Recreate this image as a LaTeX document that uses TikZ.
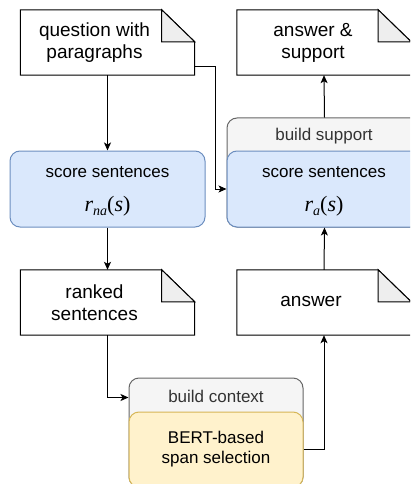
\documentclass[tikz,border=0pt]{standalone}
\usepackage{fontspec}
\setmainfont{Liberation Sans}
\newfontfamily\mathserif{Liberation Serif}
\usetikzlibrary{arrows.meta}
\definecolor{blueF}{HTML}{DAE8FC}
\definecolor{blueS}{HTML}{6C8EBF}
\definecolor{grayF}{HTML}{F5F5F5}
\definecolor{grayS}{HTML}{666666}
\definecolor{grayT}{HTML}{333333}
\definecolor{yelF}{HTML}{FFF2CC}
\definecolor{yelS}{HTML}{D6B656}
\definecolor{foldF}{HTML}{EEEEEE}
\newcommand{\docoutline}[1]{%
  \draw[docline] (#1.north west) -- ([xshift=-33pt]#1.north east) -- ([yshift=-32pt]#1.north east) -- (#1.south east) -- (#1.south west) -- cycle;
  \draw[foldline] ([xshift=-33pt]#1.north east) -- ([xshift=-33pt,yshift=-32pt]#1.north east) -- ([yshift=-32pt]#1.north east) -- cycle;}
\newcommand{\rmath}[1]{{\mathserif\itshape r}\raisebox{-4pt}{\mathserif\itshape\fontsize{14}{14}\selectfont #1}{\mathserif(}{\mathserif\itshape s}{\mathserif)}}
\begin{document}
\begin{tikzpicture}[x=1pt,y=-1pt,
  docnode/.style={shape=rectangle, draw=none, minimum width=174pt, minimum height=65pt, inner sep=0pt},
  doctext/.style={align=center, inner sep=0pt, font=\fontsize{19}{22}\selectfont},
  docline/.style={draw=black, fill=white, line width=1pt, line join=miter},
  foldline/.style={draw=black, fill=foldF, line width=1pt},
  bluebox/.style={shape=rectangle, draw=blueS, fill=blueF, rounded corners=10pt, line width=1pt, minimum width=195pt, minimum height=76pt, inner sep=0pt},
  contbox/.style={shape=rectangle, draw=grayS, fill=grayF, rounded corners=10pt, line width=1pt, inner sep=0pt},
  yelbox/.style={shape=rectangle, draw=yelS, fill=yelF, rounded corners=10pt, line width=1pt, inner sep=0pt},
  lbl/.style={align=center, inner sep=0pt, font=\fontsize{17}{20}\selectfont},
  hdr/.style={align=center, inner sep=0pt, text=grayT, font=\fontsize{17}{20}\selectfont},
  mth/.style={inner sep=0pt, font=\fontsize{22}{24}\selectfont},
  conn/.style={draw=black, line width=1pt, -{Stealth[length=8pt,width=7pt,inset=2pt]}}
]
\useasboundingbox (0,0) rectangle (410,484);
\clip (0,0) rectangle (410,484);

% documents
\node[docnode] (q) at (107.5,42.5) {};
\docoutline{q}
\node[doctext] (qt) at ([xshift=-13pt]q.center) {question with\\paragraphs};

\node[docnode] (as) at (324,42.5) {};
\docoutline{as}
\node[doctext] (ast) at ([xshift=-11pt]as.center) {answer \&\\support};

\node[docnode] (rs) at (107.5,302.5) {};
\docoutline{rs}
\node[doctext] (rst) at ([xshift=-13pt]rs.center) {ranked\\sentences};

\node[docnode] (an) at (324,302.5) {};
\docoutline{an}
\node[doctext] (ant) at ([xshift=-13pt,yshift=1pt]an.center) {answer};

% left scoring box
\node[bluebox] (sn) at (107.5,189) {};
\node[lbl] (snt) at (107.5,172) {score sentences};
\node[mth] (snm) at (107.5,206) {\rmath{na}};

% build support container
\node[contbox, minimum width=195pt, minimum height=109pt] (bs) at (324.5,172.5) {};
\node[hdr] (bst) at (324,136) {build support};
\node[bluebox] (sr) at (324.5,189) {};
\node[lbl] (srt) at (324,172) {score sentences};
\node[mth] (srm) at (324,206) {\rmath{a}};

% build context container
\node[contbox, minimum width=174pt, minimum height=109pt] (bc) at (216,432.5) {};
\node[hdr] (bct) at (216,396) {build context};
\node[yelbox, minimum width=174pt, minimum height=75pt] (ys) at (216,449.5) {};
\node[lbl] (yst) at (216,449) {BERT-based\\span selection};

% connectors
\draw[conn] (q.south) -- (sn.north);
\draw[conn] ([yshift=-24.5pt]q.east) -| ([xshift=-11pt]sr.west) -- (sr.west);
\draw[conn] (sn.south) -- (rs.north);
\draw[conn] (rs.south) |- ([yshift=-20pt]bc.north west);
\draw[conn] (ys.east) -| (an.south);
\draw[conn] (an.north) -- (sr.south);
\draw[conn] (bs.north) -- (as.south);
\end{tikzpicture}
\end{document}
